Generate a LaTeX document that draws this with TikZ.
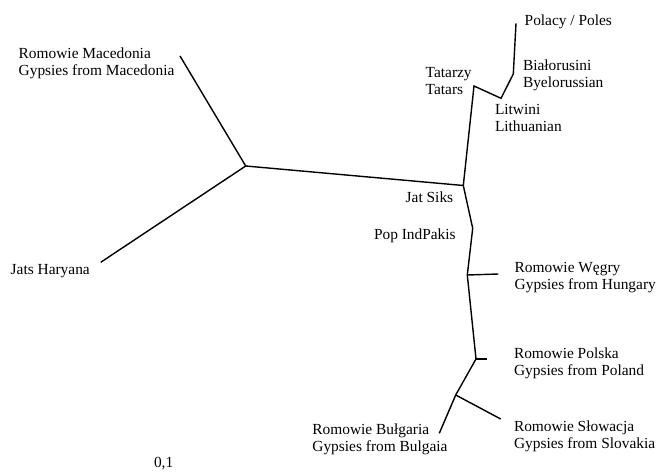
\documentclass[tikz,border=0pt]{standalone}
\usepackage{fontspec}
\setmainfont{Liberation Serif}
\begin{document}
\begin{tikzpicture}[x=1pt,y=-1pt,line width=1.4pt,
  lbl/.style={anchor=base west,inner sep=0pt,align=left,font=\fontsize{15.4}{17}\selectfont}]
\useasboundingbox (0,0) rectangle (659,473);
% inner points of the tree
\coordinate (mac) at (245.7,166);
\coordinate (jat) at (463.3,185.5);
\coordinate (tat) at (474,86);
\coordinate (lit) at (501,98.3);
\coordinate (bia) at (513.3,74);
\coordinate (pop) at (472.7,228.3);
\coordinate (hun) at (467.3,275);
\coordinate (pol) at (476,359);
\coordinate (slo) at (455.7,395);
% leaves
\coordinate (macL) at (180,56);
\coordinate (harL) at (100.7,262.3);
\coordinate (polesL) at (516,23.3);
\coordinate (hunL) at (498.3,274);
\coordinate (polL) at (486.7,359);
\coordinate (sloL) at (500.7,419);
\coordinate (bulL) at (439.3,433.3);
\draw (macL) -- (mac) -- (harL);
\draw (mac) -- (jat) -- (tat) -- (lit) -- (bia) -- (polesL);
\draw (jat) -- (pop) -- (hun) -- (pol) -- (slo) -- (bulL);
\draw (hun) -- (hunL);
\draw (pol) -- (polL);
\draw (slo) -- (sloL);
% labels (base = baseline of the last line)
\node[lbl] (tMac) at (18,75.5) {Romowie Macedonia\\Gypsies from Macedonia};
\node[lbl] (tHar) at (10,275) {Jats Haryana};
\node[lbl] (tPoles) at (524,26) {Polacy / Poles};
\node[lbl] (tTat) at (425,94.3) {Tatarzy\\Tatars};
\node[lbl] (tBia) at (522.3,87.8) {Białorusini\\Byelorussian};
\node[lbl] (tLit) at (494.3,131.7) {Litwini\\Lithuanian};
\node[lbl] (tJat) at (405,202.7) {Jat Siks};
\node[lbl] (tPop) at (373.3,239.3) {Pop IndPakis};
\node[lbl] (tHun) at (514,289.3) {Romowie Węgry\\Gypsies from Hungary};
\node[lbl] (tPol) at (513.3,375) {Romowie Polska\\Gypsies from Poland};
\node[lbl] (tSlo) at (513.3,448) {Romowie Słowacja\\Gypsies from Slovakia};
\node[lbl] (tBul) at (311.7,451) {Romowie Bułgaria\\Gypsies from Bulgaia};
\node[lbl] (tScale) at (153.3,467) {0,1};
\end{tikzpicture}
\end{document}
